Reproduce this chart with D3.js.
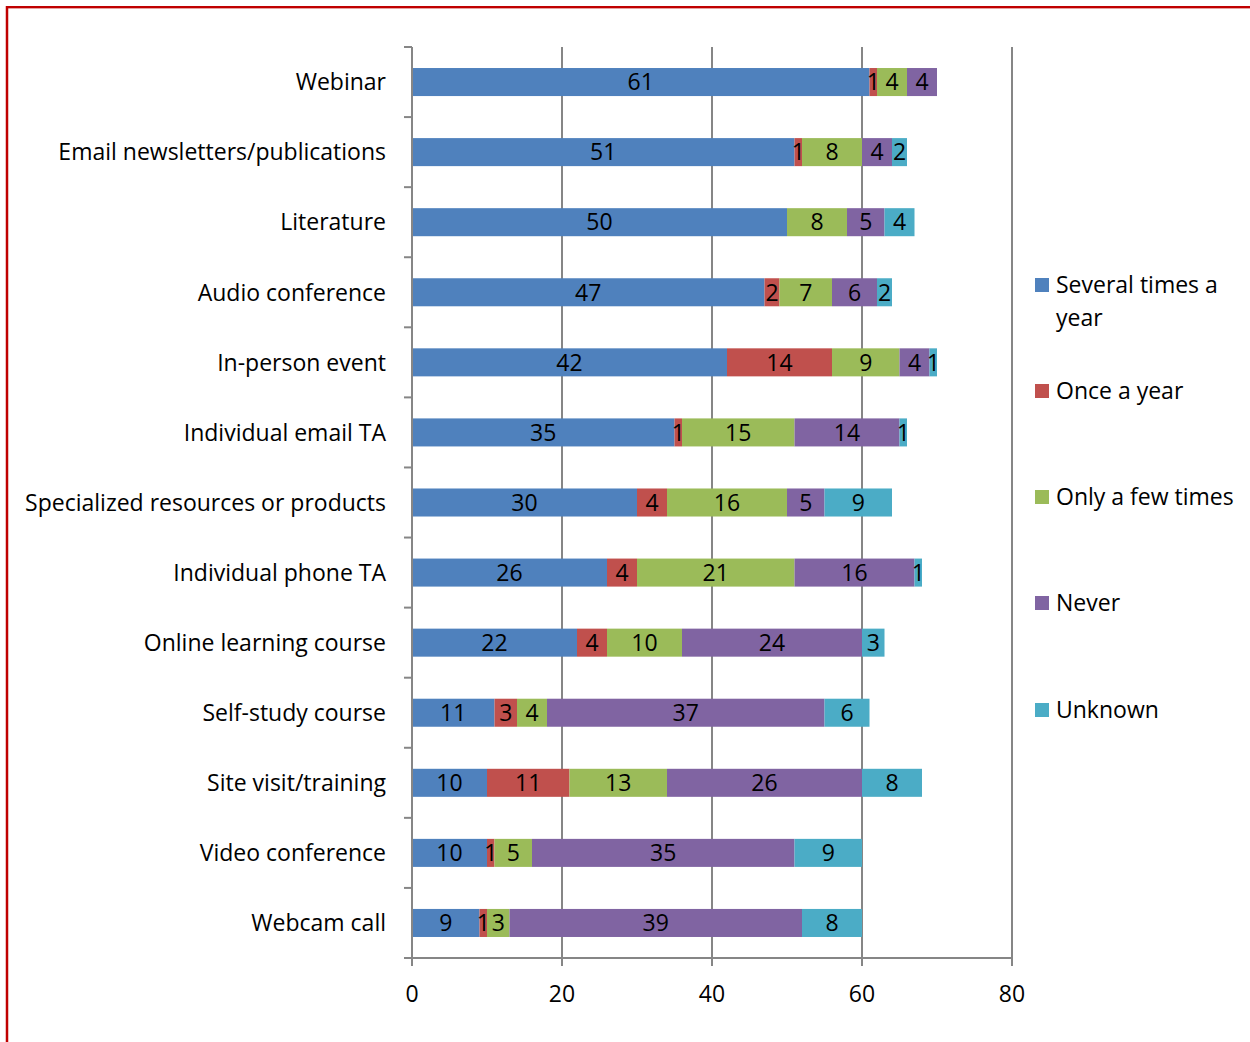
<!DOCTYPE html>
<html>
<head>
<meta charset="utf-8">
<script src="https://cdn.jsdelivr.net/npm/d3@7"></script>
<style>
  html, body { margin: 0; padding: 0; background: #fff; }
  svg { display: block; }
  text { font-family: "Open Sans", Lato, sans-serif; fill: #000; }
</style>
</head>
<body>
<script>
// Ways of receiving TA, top to bottom
const categories = [
  "Webinar",
  "Email newsletters/publications",
  "Literature",
  "Audio conference",
  "In-person event",
  "Individual email TA",
  "Specialized resources or products",
  "Individual phone TA",
  "Online learning course",
  "Self-study course",
  "Site visit/training",
  "Video conference",
  "Webcam call"
];

const seriesNames = ["Several times a year", "Once a year", "Only a few times", "Never", "Unknown"];

const severalTimes = [61, 51, 50, 47, 42, 35, 30, 26, 22, 11, 10, 10, 9];
const onceAYear    = [ 1,  1,  0,  2, 14,  1,  4,  4,  4,  3, 11,  1, 1];
const fewTimes     = [ 4,  8,  8,  7,  9, 15, 16, 21, 10,  4, 13,  5, 3];
const never        = [ 4,  4,  5,  6,  4, 14,  5, 16, 24, 37, 26, 35, 39];
const unknown      = [ 0,  2,  4,  2,  1,  1,  9,  1,  3,  6,  8,  9, 8];

const xTicks = [0, 20, 40, 60, 80];
const colors = ["#4F81BD", "#C0504D", "#9BBB59", "#8064A2", "#4BACC6"];

const W = 1250, H = 1042;
const margin = { left: 412, right: 238, top: 47, bottom: 84 };
const fontSize = "23px";

const svg = d3.select("body").append("svg").attr("width", W).attr("height", H);

// red frame lines along top and left
svg.append("line").attr("x1", 6).attr("x2", W).attr("y1", 7).attr("y2", 7)
  .attr("stroke", "#C00000").attr("stroke-width", 2);
svg.append("line").attr("x1", 6).attr("x2", W).attr("y1", 8.5).attr("y2", 8.5)
  .attr("stroke", "#E8A0A0").attr("stroke-width", 1);
svg.append("line").attr("x1", 7).attr("x2", 7).attr("y1", 6).attr("y2", H)
  .attr("stroke", "#C00000").attr("stroke-width", 2.5);

const x = d3.scaleLinear().domain([0, 80]).range([margin.left, W - margin.right]);
const y = d3.scaleBand().domain(categories).range([margin.top, H - margin.bottom])
  .paddingInner(0.6).paddingOuter(0.3);

const plotTop = margin.top, plotBottom = H - margin.bottom;
const axisColor = "#868686";

// vertical gridlines
svg.append("g").selectAll("line").data(xTicks.slice(1)).join("line")
  .attr("x1", d => x(d)).attr("x2", d => x(d))
  .attr("y1", plotTop).attr("y2", plotBottom)
  .attr("stroke", axisColor).attr("stroke-width", 2);

// stacked data
const table = categories.map((c, i) => ({
  category: c,
  [seriesNames[0]]: severalTimes[i],
  [seriesNames[1]]: onceAYear[i],
  [seriesNames[2]]: fewTimes[i],
  [seriesNames[3]]: never[i],
  [seriesNames[4]]: unknown[i]
}));
const stacked = d3.stack().keys(seriesNames)(table);

const layers = svg.append("g").selectAll("g").data(stacked).join("g")
  .attr("fill", (d, i) => colors[i]);

layers.selectAll("rect").data(d => d).join("rect")
  .attr("x", d => x(d[0]))
  .attr("y", d => y(d.data.category))
  .attr("width", d => x(d[1]) - x(d[0]))
  .attr("height", y.bandwidth());

// value labels centred in each segment
layers.selectAll("text").data(d => d.filter(s => s[1] - s[0] > 0)).join("text")
  .attr("x", d => (x(d[0]) + x(d[1])) / 2)
  .attr("y", d => y(d.data.category) + y.bandwidth() / 2)
  .attr("dy", "0.36em")
  .attr("text-anchor", "middle")
  .style("font-size", fontSize)
  .text(d => d[1] - d[0]);

// y axis line with ticks at category boundaries
svg.append("line").attr("x1", x(0)).attr("x2", x(0)).attr("y1", plotTop).attr("y2", plotBottom + 8)
  .attr("stroke", axisColor).attr("stroke-width", 2);
const boundaries = d3.range(categories.length + 1).map(i => plotTop + i * (plotBottom - plotTop) / categories.length);
svg.append("g").selectAll("line").data(boundaries).join("line")
  .attr("x1", x(0) - 8).attr("x2", x(0))
  .attr("y1", d => d).attr("y2", d => d)
  .attr("stroke", axisColor).attr("stroke-width", 2);

// category labels
svg.append("g").selectAll("text").data(categories).join("text")
  .attr("x", x(0) - 26)
  .attr("y", d => y(d) + y.bandwidth() / 2)
  .attr("dy", "0.36em")
  .attr("text-anchor", "end")
  .style("font-size", fontSize)
  .text(d => d);

// x axis
svg.append("line").attr("x1", x(0) - 1).attr("x2", x(80) + 1).attr("y1", plotBottom).attr("y2", plotBottom)
  .attr("stroke", axisColor).attr("stroke-width", 2);
svg.append("g").selectAll("line").data(xTicks).join("line")
  .attr("x1", d => x(d)).attr("x2", d => x(d))
  .attr("y1", plotBottom).attr("y2", plotBottom + 8)
  .attr("stroke", axisColor).attr("stroke-width", 2);
svg.append("g").selectAll("text").data(xTicks).join("text")
  .attr("x", d => x(d))
  .attr("y", plotBottom + 36)
  .attr("dy", "0.36em")
  .attr("text-anchor", "middle")
  .style("font-size", fontSize)
  .text(d => d);

// legend
const legendTops = [285, 391, 497, 603, 710];
const legend = svg.append("g").selectAll("g").data(seriesNames).join("g")
  .attr("transform", (d, i) => `translate(1035, ${legendTops[i]})`);
legend.append("rect").attr("x", 0).attr("y", -7).attr("width", 14).attr("height", 14)
  .attr("fill", (d, i) => colors[i]);
legend.append("text").attr("x", 21).attr("dy", "0.36em")
  .style("font-size", fontSize)
  .each(function(d) {
    const t = d3.select(this);
    if (d === "Several times a year") {
      t.append("tspan").attr("x", 21).text("Several times a");
      t.append("tspan").attr("x", 21).attr("dy", "1.42em").text("year");
    } else {
      t.text(d);
    }
  });
</script>
</body>
</html>
